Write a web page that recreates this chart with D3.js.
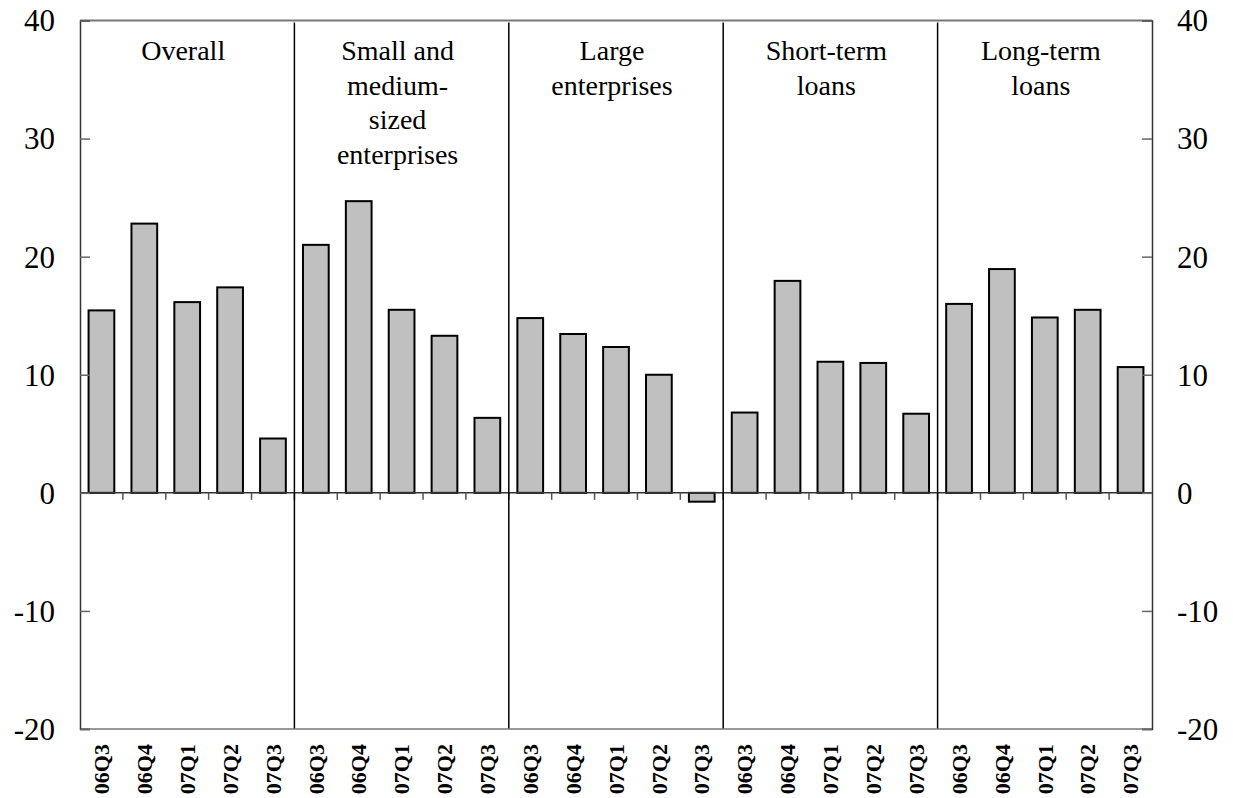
<!DOCTYPE html>
<html lang="en">
<head>
<meta charset="UTF-8">
<title>Loan growth by segment</title>
<script src="https://cdn.jsdelivr.net/npm/d3@7"></script>
<style>
    body { margin: 0; background: #fff; }
    text { font-family: "Liberation Serif", "Times New Roman", serif; fill: #000; }
</style>
</head>
<body>
<div id="chart"></div>
<script>
// chart data
var quarters = ["06Q3", "06Q4", "07Q1", "07Q2", "07Q3"];
var groups = ["Overall", "Small and medium-sized enterprises", "Large enterprises", "Short-term loans", "Long-term loans"];
var groupLines = [["Overall"], ["Small and", "medium-", "sized", "enterprises"], ["Large", "enterprises"], ["Short-term", "loans"], ["Long-term", "loans"]];
var overall = [15.45, 22.8, 16.15, 17.4, 4.6];
var smeLoans = [21.0, 24.7, 15.5, 13.3, 6.35];
var largeLoans = [14.8, 13.45, 12.35, 10.0, -0.75];
var shortTerm = [6.8, 17.95, 11.1, 11.0, 6.7];
var longTerm = [16.0, 18.95, 14.85, 15.5, 10.65];
var yTicks = [-20, -10, 0, 10, 20, 30, 40];

var allSeries = [overall, smeLoans, largeLoans, shortTerm, longTerm];

// flatten into one row per bar
var rows = [];
allSeries.forEach(function(vals, g) {
    vals.forEach(function(v, q) {
        rows.push({ id: g * quarters.length + q, group: g, quarter: quarters[q], value: v });
    });
});

var width = 1233, height = 798;
var plotLeft = 80, plotRight = 1152, plotTop = 20.5, plotBottom = 729;

var svg = d3.select("#chart").append("svg")
    .attr("width", width)
    .attr("height", height);

var x = d3.scaleBand()
    .domain(rows.map(function(d) { return d.id; }))
    .range([plotLeft, plotRight])
    .paddingInner(0.4)
    .paddingOuter(0.2);

var y = d3.scaleLinear()
    .domain([-20, 40])
    .range([plotBottom, plotTop]);

var step = x.step();
var x0 = plotLeft;

// bars
svg.append("g").selectAll("rect")
    .data(rows)
    .enter()
    .append("rect")
    .attr("x", function(d) { return x(d.id); })
    .attr("width", x.bandwidth())
    .attr("y", function(d) { return y(Math.max(0, d.value)); })
    .attr("height", function(d) { return Math.abs(y(d.value) - y(0)); })
    .attr("fill", "#c0c0c0")
    .attr("stroke", "#000")
    .attr("stroke-width", 2);

// zero line with small ticks between categories
svg.append("line")
    .attr("x1", plotLeft).attr("x2", plotRight)
    .attr("y1", y(0)).attr("y2", y(0))
    .attr("stroke", "#333").attr("stroke-width", 1.5);

svg.append("g").selectAll("line")
    .data(d3.range(1, rows.length))
    .enter()
    .append("line")
    .attr("x1", function(i) { return x0 + i * step; })
    .attr("x2", function(i) { return x0 + i * step; })
    .attr("y1", y(0)).attr("y2", y(0) + 7)
    .attr("stroke", "#555").attr("stroke-width", 1.5);

// group dividers
svg.append("g").selectAll("line")
    .data(d3.range(1, groups.length))
    .enter()
    .append("line")
    .attr("x1", function(g) { return x0 + g * quarters.length * step; })
    .attr("x2", function(g) { return x0 + g * quarters.length * step; })
    .attr("y1", plotTop + 2).attr("y2", plotBottom)
    .attr("stroke", "#000").attr("stroke-width", 1.5);

// frame: top and bottom lines
svg.append("line")
    .attr("x1", plotLeft).attr("x2", plotRight)
    .attr("y1", plotTop).attr("y2", plotTop)
    .attr("stroke", "#777").attr("stroke-width", 2);
svg.append("line")
    .attr("x1", plotLeft).attr("x2", plotRight)
    .attr("y1", plotBottom).attr("y2", plotBottom)
    .attr("stroke", "#777").attr("stroke-width", 1.5);

// y axes, ticks pointing inwards
var yLeft = svg.append("g")
    .attr("transform", "translate(" + plotLeft + ",0)")
    .call(d3.axisRight(y).tickValues(yTicks).tickSize(10).tickFormat(""));
var yRight = svg.append("g")
    .attr("transform", "translate(" + plotRight + ",0)")
    .call(d3.axisLeft(y).tickValues(yTicks).tickSize(10).tickFormat(""));
[yLeft, yRight].forEach(function(a) {
    a.select(".domain").attr("stroke", "#333").attr("stroke-width", 1.5);
    a.selectAll(".tick line").attr("stroke", "#666").attr("stroke-width", 1.5);
});

// tick labels
svg.append("g").selectAll("text")
    .data(yTicks)
    .enter()
    .append("text")
    .attr("x", 55)
    .attr("y", function(d) { return y(d); })
    .attr("dy", "0.35em")
    .attr("text-anchor", "end")
    .style("font-size", "31px")
    .text(function(d) { return d; });

svg.append("g").selectAll("text")
    .data(yTicks)
    .enter()
    .append("text")
    .attr("x", 1177)
    .attr("y", function(d) { return y(d); })
    .attr("dy", "0.35em")
    .attr("text-anchor", "start")
    .style("font-size", "31px")
    .text(function(d) { return d; });

// quarter labels, rotated
svg.append("g").selectAll("text")
    .data(rows)
    .enter()
    .append("text")
    .attr("transform", function(d) {
        return "translate(" + (x(d.id) + x.bandwidth() / 2) + ",744) rotate(-90)";
    })
    .attr("dy", "0.35em")
    .attr("text-anchor", "end")
    .style("font-size", "22px")
    .style("font-weight", "bold")
    .text(function(d) { return d.quarter; });

// group titles
var titles = svg.append("g").selectAll("text")
    .data(groupLines)
    .enter()
    .append("text")
    .attr("text-anchor", "middle")
    .style("font-size", "28px");

titles.each(function(lines, g) {
    var cx = x0 + (g + 0.5) * quarters.length * step - 4;
    d3.select(this).selectAll("tspan")
        .data(lines)
        .enter()
        .append("tspan")
        .attr("x", cx)
        .attr("y", function(d, i) { return 60 + i * 34.5; })
        .text(function(d) { return d; });
});
</script>
</body>
</html>
